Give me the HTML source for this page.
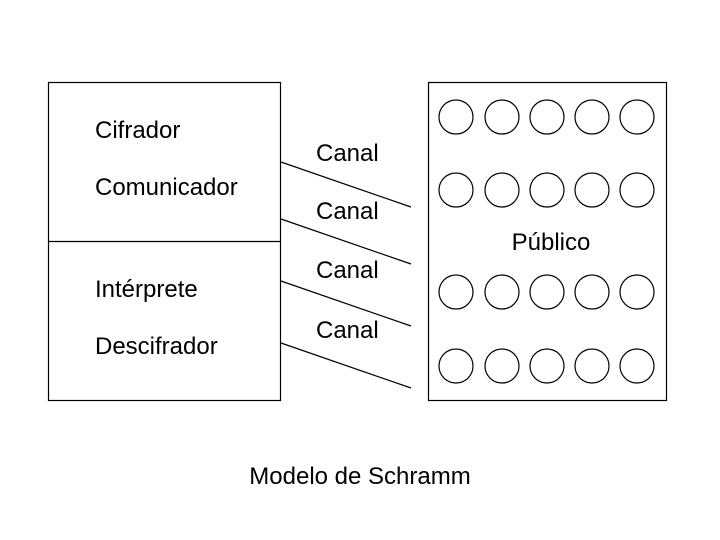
<!DOCTYPE html>
<html><head><meta charset="utf-8"><style>
html,body{margin:0;padding:0;background:#fff;}
svg{display:block;}
text{font-family:"Liberation Sans",Arial,sans-serif;font-size:24px;fill:#000;}
</style></head><body>
<svg width="720" height="540" viewBox="0 0 720 540" xmlns="http://www.w3.org/2000/svg">
<defs>
<g id="row">
<circle cx="456" cy="0" r="17"/><circle cx="502" cy="0" r="17"/><circle cx="547" cy="0" r="17"/><circle cx="592" cy="0" r="17"/><circle cx="637" cy="0" r="17"/>
</g>
</defs>
<g fill="none" stroke="#000" stroke-width="1.2">
<rect x="48.5" y="82.5" width="232" height="318"/>
<line x1="48" y1="241.5" x2="281" y2="241.5"/>
<rect x="428.5" y="82.5" width="238" height="318"/>
<line x1="281" y1="162" x2="411" y2="207"/>
<line x1="281" y1="219" x2="411" y2="264"/>
<line x1="281" y1="281" x2="411" y2="326"/>
<line x1="281" y1="343" x2="411" y2="388"/>
<use href="#row" y="117"/><use href="#row" y="190"/><use href="#row" y="292"/><use href="#row" y="366"/>
</g>
<text x="95" y="138">Cifrador</text>
<text x="95" y="195">Comunicador</text>
<text x="95" y="297">Intérprete</text>
<text x="95" y="354">Descifrador</text>
<text x="316" y="161">Canal</text>
<text x="316" y="219">Canal</text>
<text x="316" y="278">Canal</text>
<text x="316" y="338">Canal</text>
<text x="551" y="250" text-anchor="middle">Público</text>
<text x="360" y="484" text-anchor="middle">Modelo de Schramm</text>
</svg>
</body></html>
